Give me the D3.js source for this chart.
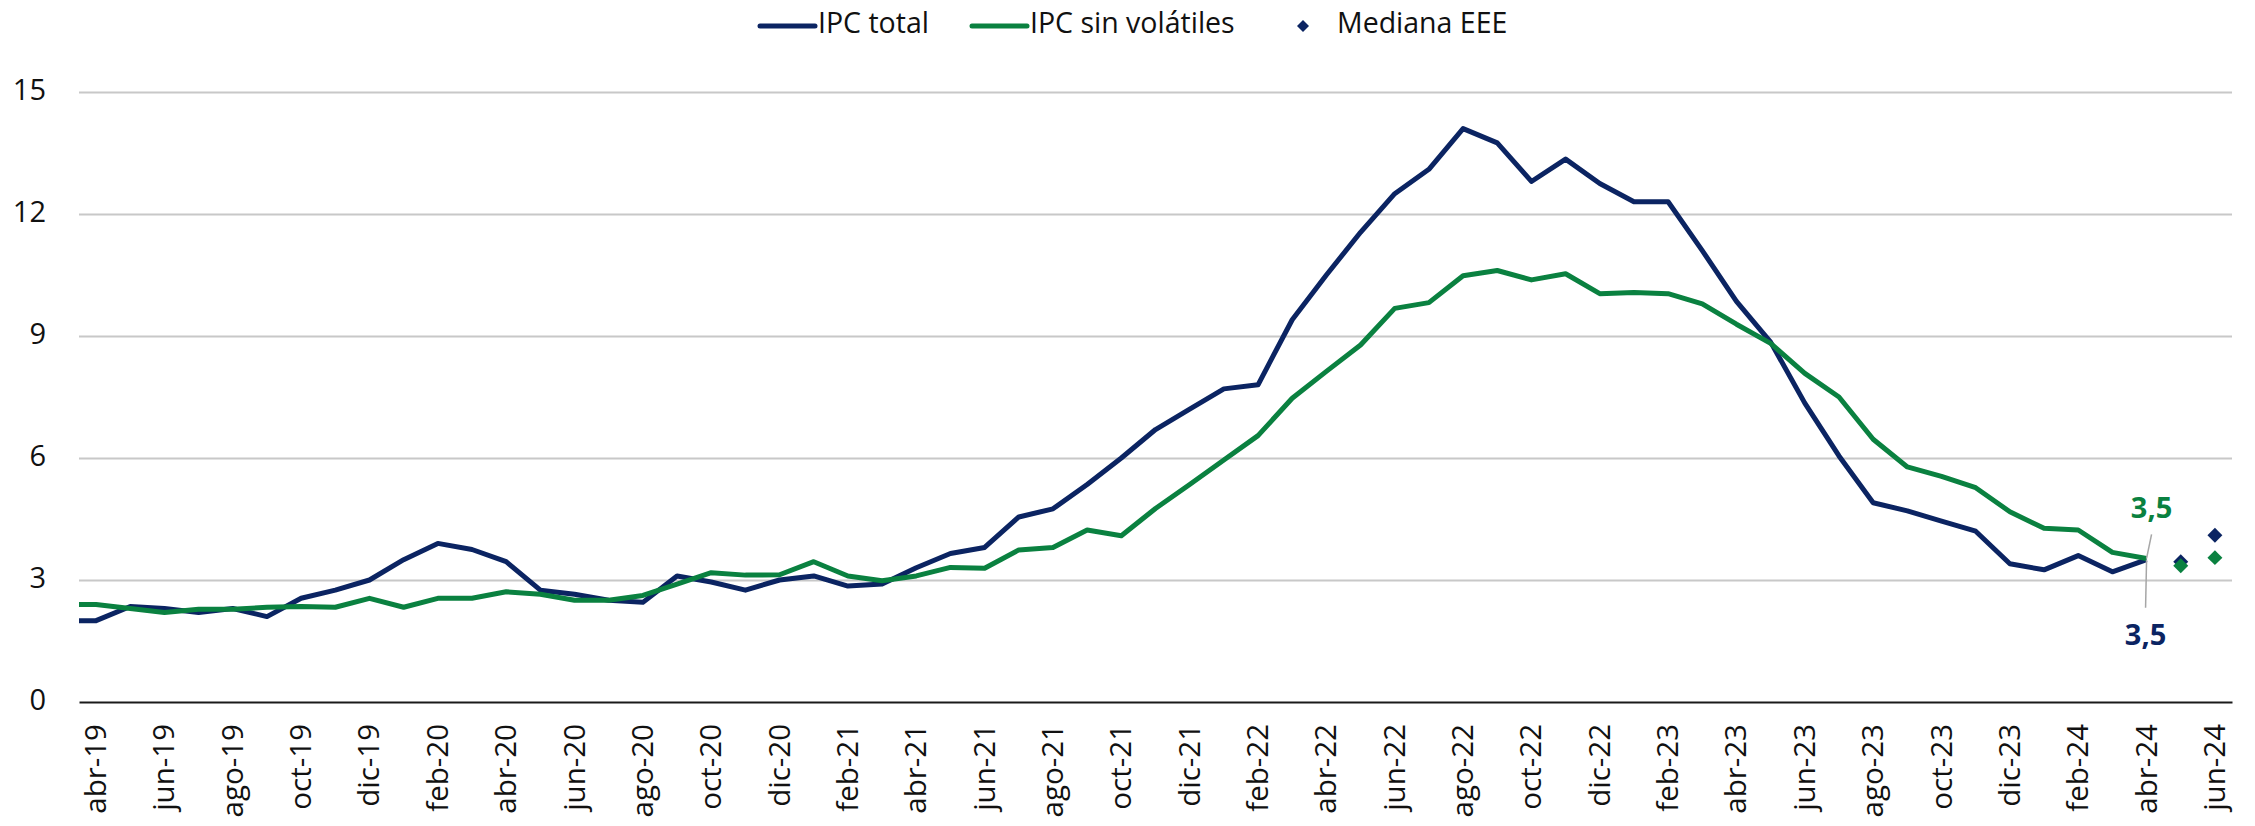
<!DOCTYPE html>
<html>
<head>
<meta charset="utf-8">
<script src="https://cdn.jsdelivr.net/npm/d3@7"></script>
<style>
  body { margin: 0; background: #fff; }
  text { font-family: "Open Sans", sans-serif; fill: #111; }
</style>
</head>
<body>
<script>
const width = 2255, height = 826;

// monthly categories, abr-19 .. jun-24
const months = [
  "abr-19","may-19","jun-19","jul-19","ago-19","sep-19","oct-19","nov-19","dic-19",
  "ene-20","feb-20","mar-20","abr-20","may-20","jun-20","jul-20","ago-20","sep-20","oct-20","nov-20","dic-20",
  "ene-21","feb-21","mar-21","abr-21","may-21","jun-21","jul-21","ago-21","sep-21","oct-21","nov-21","dic-21",
  "ene-22","feb-22","mar-22","abr-22","may-22","jun-22","jul-22","ago-22","sep-22","oct-22","nov-22","dic-22",
  "ene-23","feb-23","mar-23","abr-23","may-23","jun-23","jul-23","ago-23","sep-23","oct-23","nov-23","dic-23",
  "ene-24","feb-24","mar-24","abr-24","may-24","jun-24"
];

// IPC total, var. anual % (abr-19 .. abr-24)
const ipcTotal = [
  2.0, 2.35, 2.3, 2.2, 2.3, 2.1, 2.55, 2.75, 3.0,
  3.5, 3.9, 3.75, 3.45, 2.75, 2.65, 2.5, 2.45, 3.1, 2.95, 2.75, 3.0,
  3.1, 2.85, 2.9, 3.3, 3.65, 3.8, 4.55, 4.75, 5.35, 6.0, 6.7, 7.2,
  7.7, 7.8, 9.4, 10.5, 11.55, 12.5, 13.1, 14.1, 13.75, 12.8, 13.35, 12.75,
  12.3, 12.3, 11.1, 9.85, 8.85, 7.35, 6.05, 4.9, 4.7, 4.45, 4.2, 3.4,
  3.25, 3.6, 3.2, 3.5
];

// IPC sin volátiles (abr-19 .. abr-24)
const ipcSinVolatiles = [
  2.4, 2.3, 2.2, 2.28, 2.28, 2.33, 2.35, 2.33, 2.55,
  2.33, 2.55, 2.55, 2.71, 2.65, 2.5, 2.5, 2.62, 2.9, 3.18, 3.12, 3.13,
  3.45, 3.1, 2.98, 3.1, 3.31, 3.29, 3.74, 3.8, 4.23, 4.09, 4.76, 5.35,
  5.95, 6.55, 7.47, 8.13, 8.78, 9.68, 9.82, 10.48, 10.61, 10.38, 10.53, 10.04,
  10.07, 10.04, 9.79, 9.29, 8.82, 8.08, 7.5, 6.46, 5.78, 5.55, 5.27, 4.68,
  4.27, 4.23, 3.68, 3.53
];

// Mediana EEE
const eeeMonths = ["may-24", "jun-24"];
const eeeTotal = [3.45, 4.1];
const eeeSinVolatiles = [3.35, 3.55];

const yTicks = [0, 3, 6, 9, 12, 15];

const navy = "#0b2462", green = "#0a8140";
const left = 79, right = 2232;

const svg = d3.select("body").append("svg")
    .attr("width", width)
    .attr("height", height);

const x = d3.scaleBand().domain(months).range([left, right]);
const y = d3.scaleLinear().domain([0, 15]).range([702, 92]);
const cx = m => x(m) + x.bandwidth() / 2;

// gridlines
svg.append("g")
    .attr("transform", "translate(" + left + ",0)")
    .call(d3.axisLeft(y).tickValues(yTicks.slice(1)).tickSize(-(right - left)).tickFormat(""))
    .call(g => g.select(".domain").remove())
    .call(g => g.selectAll("line").attr("stroke", "#c8c8c8").attr("stroke-width", 2));

// y labels
svg.append("g")
    .attr("transform", "translate(46,0)")
    .call(d3.axisLeft(y).tickValues(yTicks).tickSize(0).tickPadding(0))
    .call(g => g.select(".domain").remove())
    .call(g => g.selectAll("text")
        .attr("dy", 7.5)
        .attr("font-size", 29)
        .attr("fill", "#111"));

// x axis
svg.append("g")
    .attr("transform", "translate(0," + y(0) + ")")
    .call(d3.axisBottom(x).tickValues(months.filter((d, i) => i % 2 === 0)).tickSize(0).tickSizeOuter(0))
    .call(g => g.select(".domain").attr("stroke", "#1a1a1a").attr("stroke-width", 2))
    .call(g => g.selectAll("text")
        .attr("x", 0).attr("y", 0).attr("dy", null)
        .attr("transform", "translate(10,22) rotate(-90)")
        .attr("text-anchor", "end")
        .attr("font-size", 29.5)
        .attr("fill", "#111"));

// lines
const line = d3.line().x(d => d.x).y(d => y(d.v));

function seriesPoints(values) {
  // the drawn line starts at the left edge of the plot with the first value
  const pts = [{x: x.range()[0], v: values[0]}];
  values.forEach((v, i) => pts.push({x: cx(months[i]), v: v}));
  return pts;
}

svg.append("path")
    .attr("d", line(seriesPoints(ipcTotal)))
    .attr("fill", "none")
    .attr("stroke", navy)
    .attr("stroke-width", 5)
    .attr("stroke-linejoin", "round");

svg.append("path")
    .attr("d", line(seriesPoints(ipcSinVolatiles)))
    .attr("fill", "none")
    .attr("stroke", green)
    .attr("stroke-width", 5)
    .attr("stroke-linejoin", "round");

// Mediana EEE diamonds
const diamond = d3.symbol(d3.symbolSquare, 112);
[[eeeTotal, navy], [eeeSinVolatiles, green]].forEach(([vals, col]) => {
  svg.append("g").selectAll("path")
      .data(vals)
      .enter().append("path")
      .attr("d", diamond)
      .attr("fill", col)
      .attr("transform", (d, i) => "translate(" + cx(eeeMonths[i]) + "," + y(d) + ") rotate(45)");
});

// data labels on the last observation
const lastM = months[ipcTotal.length - 1];
const fmt = v => v.toFixed(1).replace(".", ",");
const px = cx(lastM);
const pyG = y(ipcSinVolatiles[ipcSinVolatiles.length - 1]);
const pyB = y(ipcTotal[ipcTotal.length - 1]);

svg.append("line")
    .attr("x1", px + 5).attr("y1", pyG - 24)
    .attr("x2", px).attr("y2", pyG)
    .attr("stroke", "#a6a6a6").attr("stroke-width", 1.5);
svg.append("line")
    .attr("x1", px - 1).attr("y1", pyB + 48)
    .attr("x2", px).attr("y2", pyB)
    .attr("stroke", "#a6a6a6").attr("stroke-width", 1.5);

svg.append("text")
    .attr("x", px + 5).attr("y", pyG - 40)
    .attr("text-anchor", "middle")
    .attr("font-size", 29).attr("font-weight", "bold")
    .style("fill", green)
    .text(fmt(ipcSinVolatiles[ipcSinVolatiles.length - 1]));

svg.append("text")
    .attr("x", px - 1).attr("y", pyB + 85)
    .attr("text-anchor", "middle")
    .attr("font-size", 29).attr("font-weight", "bold")
    .style("fill", navy)
    .text(fmt(ipcTotal[ipcTotal.length - 1]));

// legend
const legend = svg.append("g");
legend.append("line").attr("x1", 760).attr("x2", 815).attr("y1", 26).attr("y2", 26)
    .attr("stroke", navy).attr("stroke-width", 5).attr("stroke-linecap", "round");
legend.append("text").attr("x", 818).attr("y", 33).attr("font-size", 28.5).text("IPC total");
legend.append("line").attr("x1", 972).attr("x2", 1027).attr("y1", 26).attr("y2", 26)
    .attr("stroke", green).attr("stroke-width", 5).attr("stroke-linecap", "round");
legend.append("text").attr("x", 1030).attr("y", 33).attr("font-size", 28.5).text("IPC sin volátiles");
legend.append("path").attr("d", d3.symbol(d3.symbolSquare, 72))
    .attr("fill", navy).attr("transform", "translate(1303,26) rotate(45)");
legend.append("text").attr("x", 1337).attr("y", 33).attr("font-size", 28.5).text("Mediana EEE");
</script>
</body>
</html>
